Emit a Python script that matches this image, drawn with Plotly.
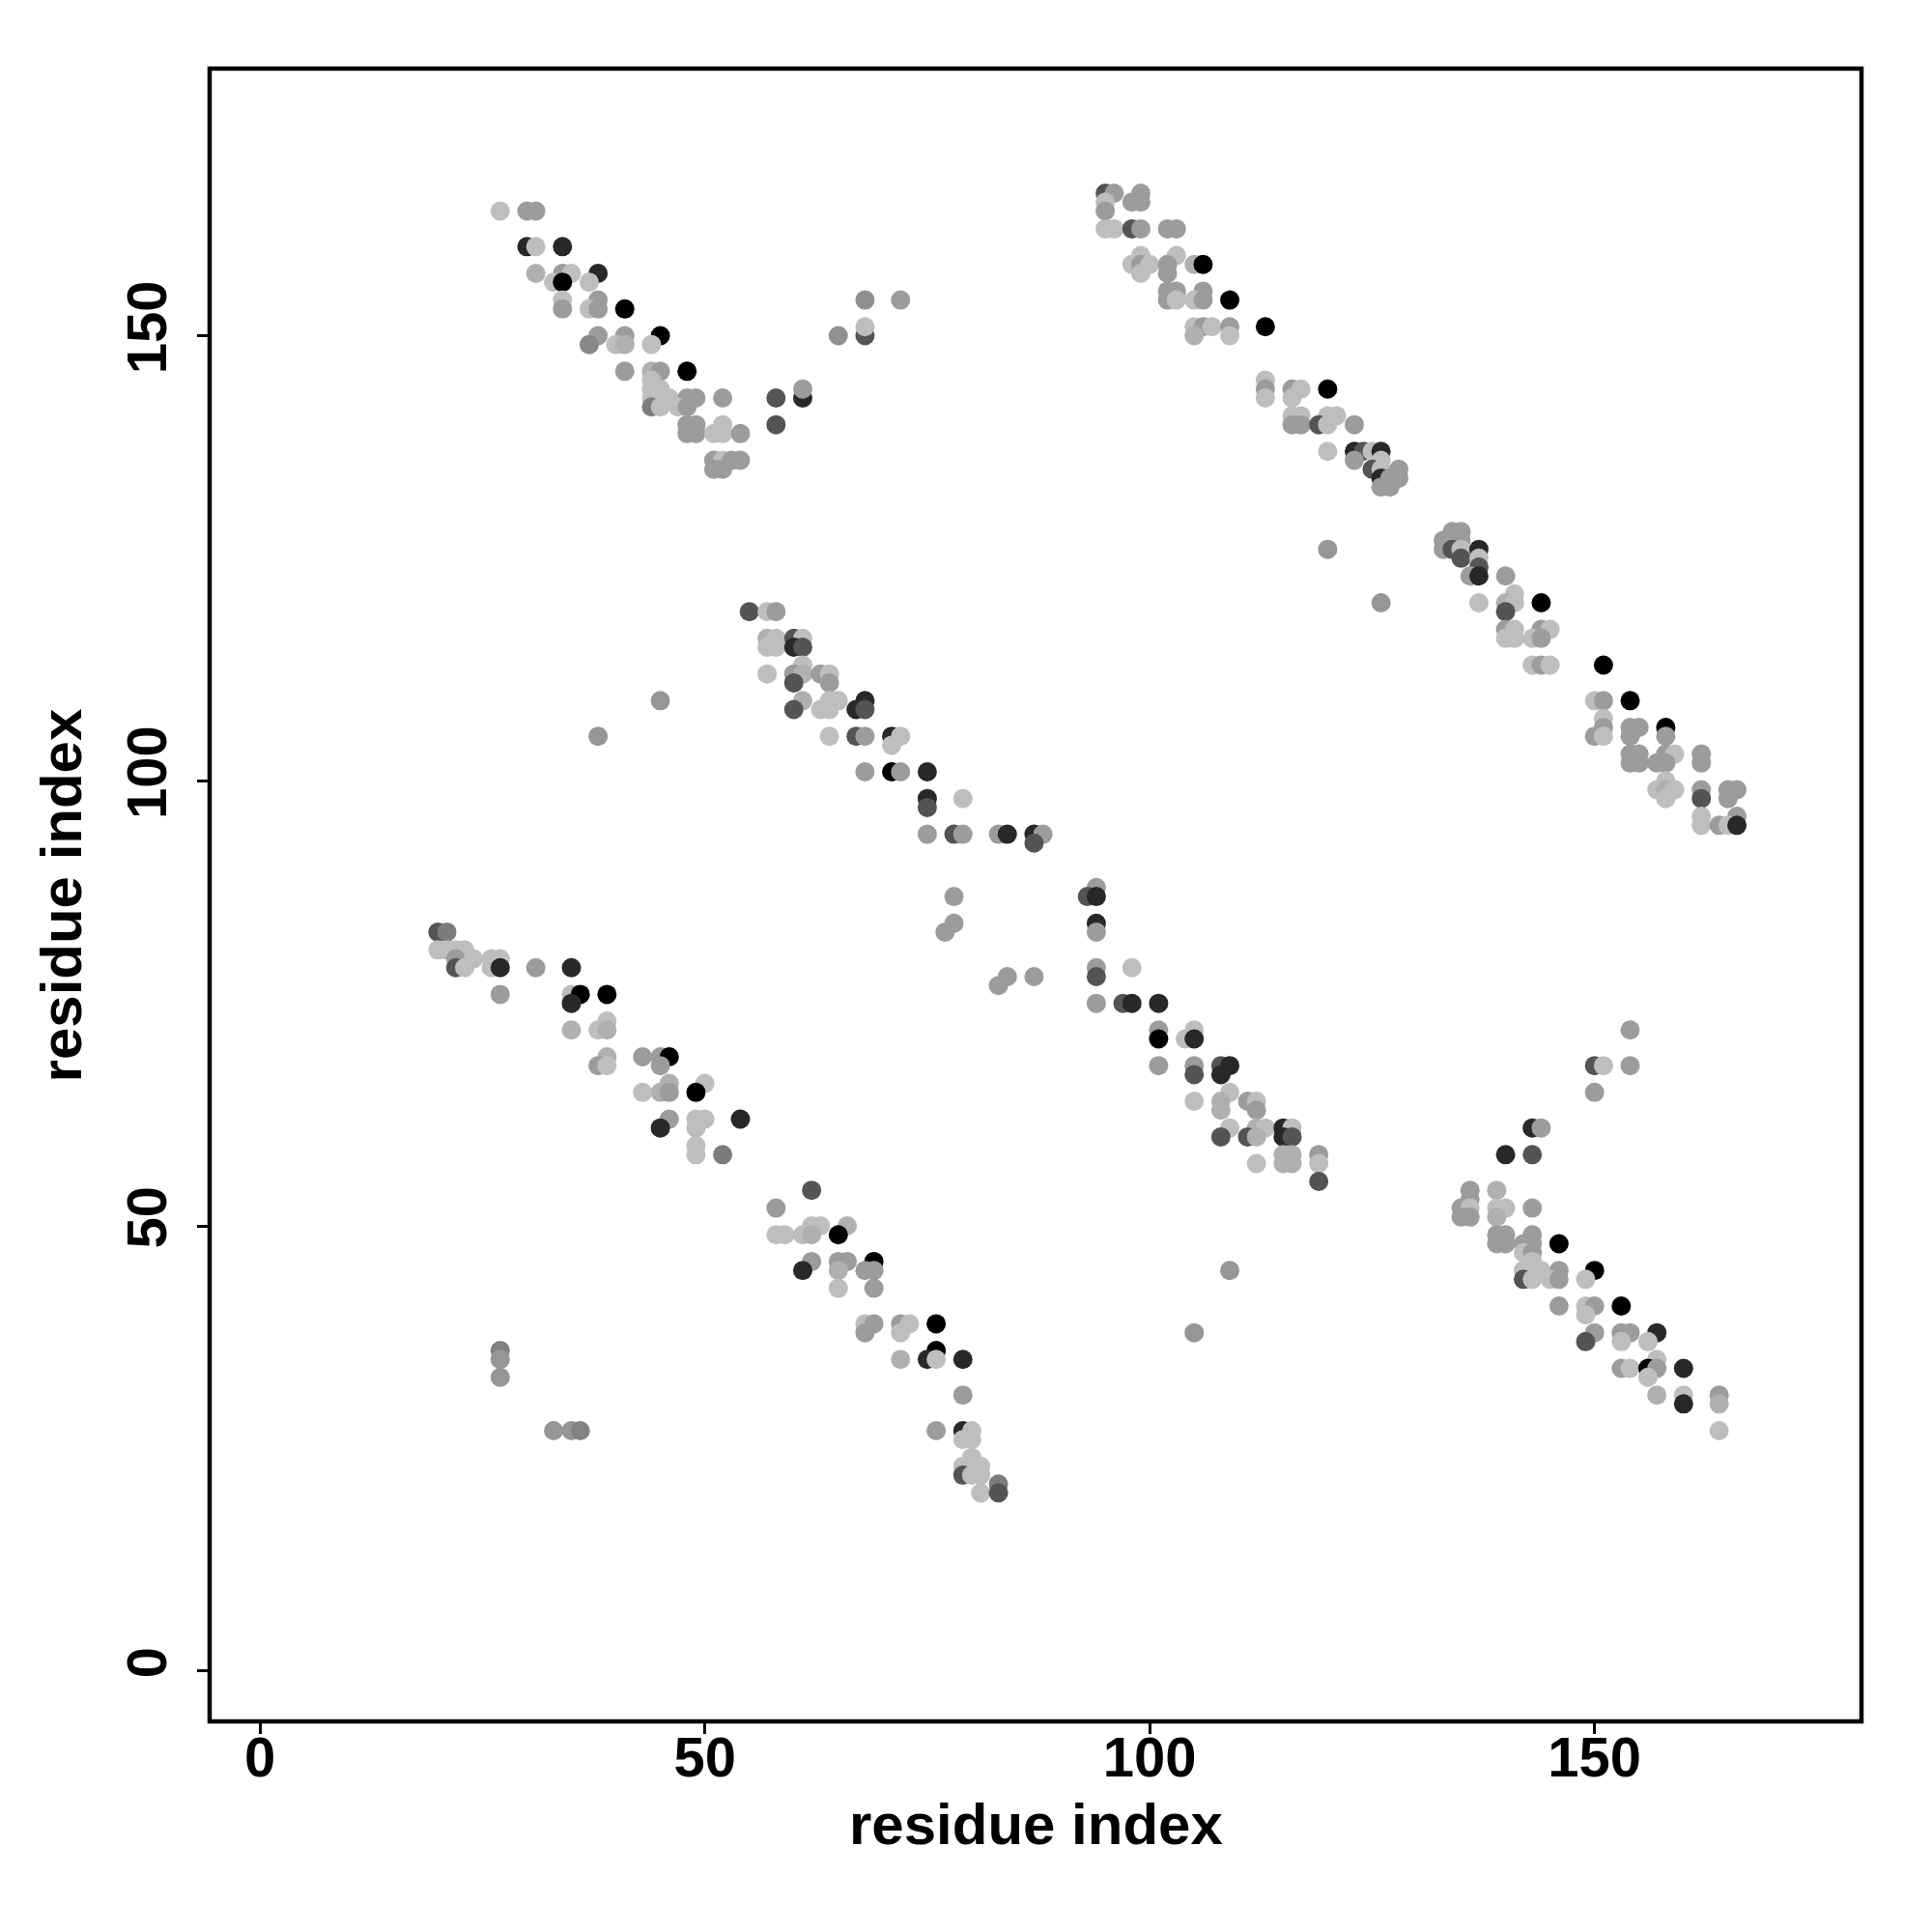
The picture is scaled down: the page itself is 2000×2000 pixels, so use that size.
import plotly.graph_objects as go

# ---- contact clusters: residue i (x), residue j (y), contact score (shade, 0=light .. 1=black)
a_x = [27, 30, 31, 30, 31, 34, 31, 34, 35, 38, 33, 34, 37, 34, 38, 34, 37, 38, 41,
       38, 41, 45, 37, 40, 41, 44, 41, 44, 45, 48, 44, 44, 45, 44, 45, 46, 48, 49, 52, 58, 61,
       61, 44, 45, 47, 48, 48, 49, 52, 58, 48, 49, 51, 52, 54, 51, 52, 53, 54, 51, 52,
       65, 68, 68, 68, 72]
a_y = [164, 164, 164, 160, 160, 160, 157, 157, 157, 157, 156, 156, 156, 154, 154, 153, 153, 153, 153,
       150, 150, 150, 149, 149, 149, 149, 146, 146, 146, 146, 145, 144, 144, 143, 143, 143, 143, 143, 143, 143, 143,
       144, 142, 142, 142, 142, 140, 140, 140, 140, 139, 139, 139, 139, 139, 136, 136, 136, 136, 135, 135,
       150, 150, 151, 154, 154]
a_s = [0.05, 0.22, 0.22, 0.8, 0.05, 0.8, 0.12, 0.22, 0.05, 0.8, 0.05, 1.0, 0.05, 0.05, 0.22, 0.22, 0.05, 0.22, 1.0,
       0.22, 0.22, 1.0, 0.32, 0.05, 0.12, 0.05, 0.22, 0.12, 0.22, 1.0, 0.05, 0.05, 0.05, 0.05, 0.05, 0.05, 0.22, 0.22, 0.22, 0.58, 0.8,
       0.22, 0.38, 0.05, 0.05, 0.22, 0.22, 0.22, 0.05, 0.58, 0.22, 0.22, 0.05, 0.05, 0.22, 0.22, 0.05, 0.22, 0.22, 0.22, 0.22,
       0.28, 0.58, 0.05, 0.28, 0.22]

b_x = [95, 96, 99, 95, 98, 99, 95, 95, 96, 98, 99, 102, 103, 99, 103, 98, 99, 100, 102, 105, 106,
       99, 102, 102, 103, 106, 102, 103, 105, 106, 109, 105, 106, 107, 109, 113, 105, 109,
       113, 113, 116, 117, 120, 113, 116, 116, 117, 120, 121, 116, 117, 119, 120, 123,
       120, 123, 124, 125, 126, 123, 126, 125, 126, 128, 126, 127, 128, 126, 127]
b_y = [166, 166, 166, 165, 165, 165, 164, 162, 162, 162, 162, 162, 162, 159, 159, 158, 158, 158, 158, 158, 158,
       157, 157, 155, 155, 155, 154, 154, 154, 154, 154, 151, 151, 151, 151, 151, 150, 150,
       145, 144, 144, 144, 144, 143, 143, 141, 141, 141, 141, 140, 140, 140, 140, 140,
       137, 137, 137, 137, 137, 136, 136, 135, 135, 135, 134, 134, 134, 133, 133]
b_s = [0.58, 0.22, 0.22, 0.05, 0.22, 0.22, 0.22, 0.05, 0.05, 0.58, 0.22, 0.22, 0.22, 0.05, 0.05, 0.05, 0.22, 0.05, 0.22, 0.12, 1.0,
       0.05, 0.22, 0.22, 0.22, 0.22, 0.22, 0.05, 0.05, 0.22, 1.0, 0.05, 0.22, 0.05, 0.22, 1.0, 0.12, 0.05,
       0.05, 0.22, 0.22, 0.05, 1.0, 0.05, 0.05, 0.05, 0.05, 0.05, 0.05, 0.22, 0.22, 0.58, 0.05, 0.22,
       0.05, 0.8, 0.58, 0.05, 0.8, 0.22, 0.05, 0.58, 0.05, 0.22, 0.8, 0.22, 0.22, 0.22, 0.22]

c_x = [134, 135, 133, 135, 133, 134, 135, 137, 135, 137, 137, 136, 137, 140, 141, 137, 140, 141, 144, 140,
       140, 141, 144, 145, 140, 141, 143, 144, 143, 144, 145, 151, 150, 151, 154, 151,
       151, 154, 155, 158, 150, 151, 154, 158, 154, 155, 158, 159, 162, 154, 155, 157, 158, 162,
       158, 157, 158, 159, 162, 165, 166, 158, 162, 165, 162, 166, 162, 164, 165, 166]
c_y = [128, 128, 127, 127, 126, 126, 126, 126, 125, 125, 124, 123, 123, 123, 121, 120, 120, 120, 120, 119,
       117, 117, 117, 117, 116, 116, 116, 116, 113, 113, 113, 113, 109, 109, 109, 107,
       106, 106, 106, 106, 105, 105, 105, 105, 103, 103, 103, 103, 103, 102, 102, 102, 102, 102,
       100, 99, 99, 99, 99, 99, 99, 98, 98, 98, 96, 96, 95, 95, 95, 95]
c_s = [0.22, 0.22, 0.22, 0.22, 0.22, 0.58, 0.05, 0.8, 0.58, 0.05, 0.58, 0.22, 0.8, 0.22, 0.05, 0.05, 0.12, 0.05, 1.0, 0.58,
       0.22, 0.05, 0.22, 0.05, 0.05, 0.05, 0.05, 0.22, 0.05, 0.22, 0.05, 1.0, 0.05, 0.22, 1.0, 0.05,
       0.22, 0.22, 0.22, 1.0, 0.22, 0.05, 0.22, 0.22, 0.22, 0.22, 0.22, 0.05, 0.22, 0.22, 0.22, 0.22, 0.22, 0.22,
       0.05, 0.05, 0.12, 0.05, 0.22, 0.22, 0.22, 0.05, 0.58, 0.22, 0.05, 0.22, 0.05, 0.22, 0.05, 0.8]

d_x = [55, 57, 58, 57, 58, 60, 61, 57, 58, 60, 61, 61, 57, 60, 61, 63, 64, 60, 64,
       61, 64, 65, 68, 60, 63, 64, 67, 68, 64, 67, 68, 71, 72, 71, 68, 71, 72, 75,
       75, 79, 75, 75, 78, 79, 83, 84, 87, 88, 87, 78, 78, 77, 84, 87, 83]
d_y = [119, 119, 119, 116, 116, 116, 116, 115, 115, 115, 115, 113, 112, 112, 112, 112, 112, 111, 111,
       109, 109, 109, 109, 108, 108, 108, 108, 108, 105, 105, 105, 105, 105, 104, 101, 101, 101, 101,
       98, 98, 97, 94, 94, 94, 94, 94, 94, 94, 93, 87, 84, 83, 78, 78, 77]
d_s = [0.58, 0.05, 0.22, 0.12, 0.05, 0.58, 0.05, 0.05, 0.05, 0.8, 0.58, 0.05, 0.05, 0.22, 0.12, 0.22, 0.05, 0.58, 0.22,
       0.12, 0.05, 0.05, 0.8, 0.58, 0.05, 0.05, 0.8, 0.58, 0.05, 0.58, 0.22, 0.8, 0.05, 0.05, 0.22, 1.0, 0.22, 0.8,
       0.8, 0.05, 0.58, 0.22, 0.58, 0.22, 0.22, 0.8, 0.8, 0.22, 0.58, 0.22, 0.22, 0.22, 0.22, 0.22, 0.22]

e_x = [20, 21, 20, 21, 22, 23, 22, 24, 26, 27, 22, 23, 26, 27, 31, 35, 27, 35, 36, 39, 35,
       39, 35, 38, 39, 39, 43, 45, 46, 38, 39, 45, 46, 50, 43, 45, 46, 49,
       46, 49, 50, 54, 45, 49, 49, 49, 52]
e_y = [83, 83, 81, 81, 81, 81, 80, 80, 80, 80, 79, 79, 79, 79, 79, 79, 76, 76, 76, 76, 75,
       73, 72, 72, 72, 69, 69, 69, 69, 68, 68, 68, 66, 66, 65, 65, 65, 65,
       62, 62, 62, 62, 61, 61, 59, 58, 58]
e_s = [0.58, 0.38, 0.05, 0.05, 0.05, 0.05, 0.22, 0.05, 0.05, 0.05, 0.58, 0.05, 0.05, 0.8, 0.22, 0.8, 0.22, 0.05, 1.0, 1.0, 0.8,
       0.05, 0.12, 0.05, 0.12, 0.12, 0.22, 0.22, 1.0, 0.22, 0.05, 0.22, 0.12, 0.05, 0.05, 0.12, 0.22, 1.0,
       0.22, 0.05, 0.05, 0.8, 0.8, 0.05, 0.05, 0.05, 0.38]

f_x = [62, 58, 62, 63, 66, 58, 59, 61, 62, 65, 62, 65, 66, 69, 61, 65, 68, 69, 65, 69,
       68, 69, 72, 73, 76, 68, 72, 76, 72, 75, 76, 79, 79, 76, 79, 80, 79, 80,
       80, 79, 81, 79, 80, 81, 83, 81, 83]
f_y = [54, 52, 50, 50, 50, 49, 49, 49, 49, 49, 46, 46, 46, 46, 45, 45, 45, 45, 43, 43,
       39, 39, 39, 39, 39, 38, 38, 36, 35, 35, 35, 35, 31, 27, 27, 27, 26, 26,
       24, 23, 23, 22, 22, 22, 21, 20, 20]
f_s = [0.58, 0.22, 0.05, 0.05, 0.12, 0.05, 0.05, 0.05, 0.12, 1.0, 0.22, 0.22, 0.22, 1.0, 0.8, 0.12, 0.22, 0.22, 0.05, 0.22,
       0.05, 0.22, 0.22, 0.05, 1.0, 0.22, 0.05, 1.0, 0.12, 0.8, 0.05, 0.8, 0.22, 0.22, 0.8, 0.05, 0.05, 0.05,
       0.05, 0.05, 0.05, 0.58, 0.05, 0.05, 0.38, 0.05, 0.58]

g_x = [94, 93, 94, 94, 94, 94, 98, 94, 94, 97, 98, 101, 101, 105, 101, 104, 105,
       101, 105, 108, 109, 105, 108, 109, 105, 108, 111, 112, 108, 112,
       109, 112, 113, 115, 116, 108, 111, 112, 115, 116, 115, 116, 119, 112, 115, 116, 119, 119]
g_y = [88, 87, 87, 84, 83, 79, 79, 78, 75, 75, 75, 75, 72, 72, 71, 71, 71,
       68, 68, 68, 68, 67, 67, 65, 64, 64, 64, 64, 63, 63,
       61, 61, 61, 61, 61, 60, 60, 60, 60, 60, 58, 58, 58, 57, 57, 57, 57, 55]
g_s = [0.22, 0.58, 0.8, 0.8, 0.22, 0.22, 0.05, 0.58, 0.22, 0.58, 0.8, 0.8, 0.22, 0.05, 1.0, 0.05, 0.8,
       0.22, 0.22, 0.58, 0.8, 0.58, 0.8, 0.05, 0.05, 0.12, 0.22, 0.05, 0.12, 0.22,
       0.05, 0.12, 0.05, 0.8, 0.05, 0.58, 0.58, 0.12, 0.8, 0.58, 0.12, 0.12, 0.22, 0.05, 0.12, 0.12, 0.05, 0.58]

h_x = [154, 150, 151, 154, 150, 143, 144, 140, 143, 136, 139, 136, 135, 136, 139, 140, 143, 135, 136, 139,
       139, 140, 143, 139, 140, 142, 143, 146, 142, 143, 143, 142, 144, 146, 150,
       142, 143, 145, 146, 149, 146, 149, 150, 153, 149, 150, 153, 154, 157, 149, 153, 156,
       157, 153, 154, 156, 157, 160, 156, 157, 160, 164, 160, 164, 164]
h_y = [72, 68, 68, 68, 65, 61, 61, 58, 58, 54, 54, 53, 52, 52, 52, 52, 52, 51, 51, 51,
       49, 49, 49, 48, 48, 48, 48, 48, 47, 47, 46, 45, 45, 45, 45,
       44, 44, 44, 44, 44, 41, 41, 41, 41, 40, 38, 38, 38, 38, 37, 37, 37,
       35, 34, 34, 34, 34, 34, 33, 31, 31, 31, 30, 30, 27]
h_s = [0.22, 0.58, 0.05, 0.22, 0.22, 0.8, 0.22, 0.8, 0.58, 0.22, 0.12, 0.22, 0.22, 0.05, 0.05, 0.05, 0.22, 0.22, 0.22, 0.12,
       0.22, 0.22, 0.22, 0.22, 0.22, 0.22, 0.22, 1.0, 0.05, 0.22, 0.05, 0.05, 0.05, 0.22, 1.0,
       0.58, 0.05, 0.05, 0.22, 0.05, 0.22, 0.05, 0.22, 1.0, 0.05, 0.22, 0.22, 0.22, 0.8, 0.58, 0.05, 0.05,
       0.05, 0.22, 0.05, 1.0, 0.22, 0.8, 0.05, 0.12, 0.05, 0.22, 0.8, 0.12, 0.05]

s_x = [27, 27, 27, 33, 35, 36, 38, 45, 120, 126, 109, 105]
s_y = [36, 35, 33, 27, 27, 27, 105, 109, 126, 120, 45, 38]
s_s = [0.35, 0.25, 0.25, 0.25, 0.25, 0.35, 0.25, 0.25, 0.25, 0.25, 0.25, 0.25]

tick_vals = [0, 50, 100, 150]
axis_title = "residue index"

xs = a_x + b_x + c_x + d_x + e_x + f_x + g_x + h_x + s_x
ys = a_y + b_y + c_y + d_y + e_y + f_y + g_y + h_y + s_y
ss = a_s + b_s + c_s + d_s + e_s + f_s + g_s + h_s + s_s
n = min(len(xs), len(ys), len(ss))
xs, ys, ss = xs[:n], ys[:n], ss[:n]

FAMILY = "Liberation Sans, Arial, Helvetica, sans-serif"
TICKFONT = dict(family=FAMILY, size=58, color="black", weight="bold")
TITLEFONT = dict(family=FAMILY, size=60, color="black", weight="bold")

fig = go.Figure(go.Scatter(
    x=xs, y=ys, mode="markers",
    marker=dict(size=20, color=ss, cmin=0, cmax=1,
                colorscale=[[0, "#c8c8c8"], [1, "#000000"]],
                showscale=False, line=dict(width=0)),
    hoverinfo="x+y",
))

axis_common = dict(
    tickvals=tick_vals, ticks="outside", ticklen=12, tickwidth=3, tickcolor="black",
    showgrid=False, zeroline=False, showline=False, tickfont=TICKFONT,
    range=[-5.66, 180.0],
)
fig.update_xaxes(**axis_common, ticklabelstandoff=-26)
fig.update_yaxes(**axis_common, tickangle=-90, ticklabelstandoff=9)

fig.add_shape(type="rect", xref="paper", yref="paper", x0=0, y0=0, x1=1, y1=1,
              line=dict(color="black", width=4.5), fillcolor="rgba(0,0,0,0)", layer="above")

fig.add_annotation(text=axis_title, xref="paper", yref="paper", x=0.5, y=-0.0625,
                   showarrow=False, font=TITLEFONT, xanchor="center", yanchor="middle")
fig.add_annotation(text=axis_title, xref="paper", yref="paper", x=-0.0895, y=0.5,
                   showarrow=False, font=TITLEFONT, textangle=-90, xanchor="center", yanchor="middle")

fig.update_layout(
    width=2000, height=2000, autosize=False,
    margin=dict(l=209, r=81, t=63, b=226),
    plot_bgcolor="white", paper_bgcolor="white",
    showlegend=False,
)

fig.write_html("out.html")
